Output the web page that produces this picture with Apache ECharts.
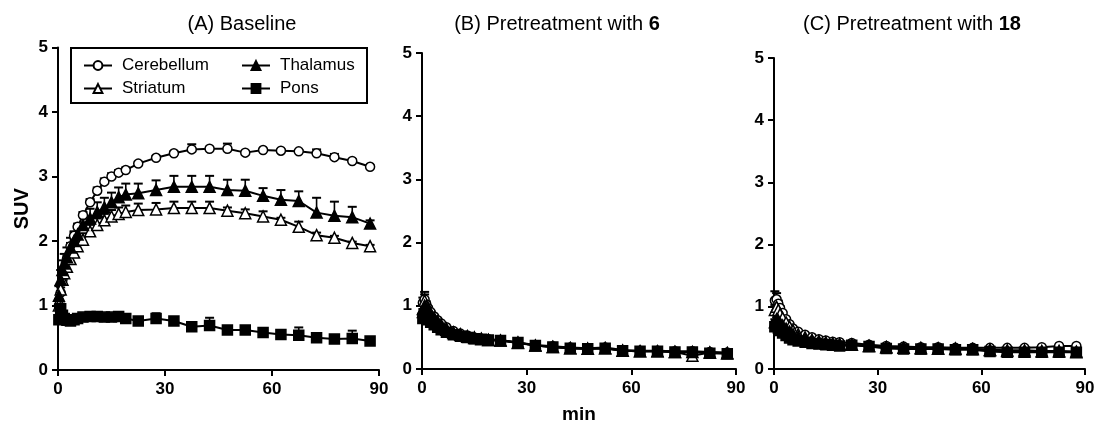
<!DOCTYPE html>
<html><head><meta charset="utf-8">
<script src="https://cdn.jsdelivr.net/npm/echarts@6/dist/echarts.min.js"></script>
<style>html,body{margin:0;padding:0;background:#fff}#c{width:1095px;height:423px}</style>
</head><body><div id="c"></div>
<script>
// frame mid-times (min)
const times = [0.25,0.75,1.25,1.75,2.5,3.5,4.5,5.5,7,9,11,13,15,17,19,22.5,27.5,32.5,37.5,42.5,47.5,52.5,57.5,62.5,67.5,72.5,77.5,82.5,87.5];
const regions = ['Cerebellum','Striatum','Thalamus','Pons'];
const panelTitles = ['(A) Baseline','(B) Pretreatment with {b|6}','(C) Pretreatment with {b|18}'];
const xTickValues = [0,30,60,90];
const yTickValues = [0,1,2,3,4,5];

// Panel A: baseline
const aCerebellum    = [1.0,1.2,1.4,1.55,1.72,1.92,2.08,2.22,2.4,2.6,2.78,2.92,3.0,3.06,3.1, 3.2,3.29,3.36,3.42,3.43,3.43,3.37,3.41,3.40,3.39,3.36,3.30,3.24,3.15];
const aCerebellumErr = [0.1,0.08,0.06,0.05,0.05,0.05,0.05,0.05,0.05,0.05,0.05,0.05,0.05,0.04,0.04, 0.03,0.03,0.03,0.08,0.03,0.08,0.02,0.02,0.02,0.02,0.06,0.05,0.03,0.02];
const aStriatum      = [1.0,1.25,1.4,1.5,1.6,1.72,1.82,1.92,2.02,2.15,2.25,2.32,2.38,2.42,2.45, 2.48,2.49,2.51,2.51,2.51,2.47,2.43,2.38,2.33,2.22,2.09,2.05,1.97,1.92];
const aStriatumErr   = [0.08,0.1,0.1,0.1,0.1,0.1,0.1,0.1,0.1,0.1,0.1,0.1,0.1,0.1,0.1, 0.1,0.1,0.1,0.1,0.1,0.05,0.06,0.08,0.03,0.08,0.04,0.03,0.02,0.02];
const aThalamus      = [1.15,1.4,1.55,1.65,1.75,1.9,2.0,2.1,2.25,2.35,2.45,2.52,2.6,2.68,2.72, 2.74,2.79,2.84,2.84,2.84,2.79,2.78,2.70,2.64,2.62,2.44,2.39,2.37,2.27];
const aThalamusErr   = [0.15,0.15,0.15,0.15,0.15,0.15,0.15,0.15,0.15,0.15,0.15,0.15,0.15,0.15,0.17, 0.15,0.15,0.17,0.17,0.17,0.16,0.17,0.12,0.15,0.15,0.23,0.22,0.16,0.05];
const aPons          = [0.78,0.95,0.85,0.8,0.77,0.76,0.78,0.8,0.82,0.83,0.83,0.82,0.82,0.83,0.8, 0.76,0.80,0.76,0.67,0.69,0.62,0.62,0.58,0.55,0.54,0.50,0.48,0.49,0.45];
const aPonsErr       = [0.05,0.08,0.05,0.03,0.03,0.03,0.03,0.03,0.03,0.03,0.03,0.03,0.03,0.03,0.03, 0.02,0.08,0.02,0.02,0.12,0.02,0.05,0.02,0.02,0.12,0.02,0.02,0.12,0.02];

// Panel B: pretreatment with 6
const bCerebellum    = [1.05,1.1,1.02,0.96,0.9,0.83,0.77,0.72,0.66,0.6,0.56,0.53,0.5,0.48,0.47, 0.46,0.42,0.38,0.36,0.34,0.33,0.34,0.3,0.29,0.29,0.28,0.28,0.27,0.26];
const bCerebellumErr = [0.08,0.12,0.05,0.03,0.02,0,0,0,0,0,0,0,0,0,0, 0,0,0,0,0,0,0,0,0,0,0,0,0,0];
const bStriatum      = [0.95,1.08,1.0,0.94,0.88,0.81,0.75,0.7,0.64,0.58,0.55,0.52,0.5,0.48,0.46, 0.45,0.42,0.37,0.35,0.33,0.32,0.33,0.29,0.28,0.28,0.27,0.21,0.26,0.25];
const bStriatumErr   = [0.1,0.1,0.05,0.03,0,0,0,0,0,0,0,0,0,0,0, 0,0,0,0,0,0,0,0,0,0,0,0.05,0,0];
const bThalamus      = [0.9,1.0,0.95,0.9,0.85,0.79,0.73,0.68,0.62,0.57,0.54,0.51,0.49,0.47,0.46, 0.45,0.41,0.37,0.35,0.33,0.32,0.33,0.29,0.28,0.28,0.27,0.27,0.26,0.25];
const bThalamusErr   = [0.05,0.05,0.03,0,0,0,0,0,0,0,0,0,0,0,0, 0,0,0,0,0,0,0,0,0,0,0,0,0,0];
const bPons          = [0.8,0.85,0.82,0.78,0.74,0.7,0.66,0.62,0.58,0.54,0.52,0.5,0.48,0.47,0.46, 0.45,0.42,0.37,0.35,0.33,0.32,0.33,0.29,0.28,0.28,0.27,0.27,0.25,0.24];
const bPonsErr       = [0,0,0,0,0,0,0,0,0,0,0,0,0,0,0, 0,0,0,0,0,0,0,0,0,0,0,0,0,0];

// Panel C: pretreatment with 18
const cCerebellum    = [1.1,1.12,1.05,0.98,0.9,0.8,0.72,0.65,0.6,0.55,0.51,0.48,0.46,0.44,0.43, 0.42,0.39,0.37,0.36,0.35,0.35,0.34,0.34,0.34,0.34,0.34,0.35,0.37,0.37];
const cCerebellumErr = [0.15,0.1,0.05,0.03,0.02,0,0,0,0,0,0,0,0,0,0, 0,0,0,0,0,0,0,0,0,0,0,0,0,0];
const cStriatum      = [0.95,1.0,0.95,0.88,0.82,0.75,0.68,0.62,0.56,0.51,0.47,0.45,0.43,0.41,0.4, 0.39,0.37,0.35,0.34,0.33,0.33,0.32,0.32,0.31,0.3,0.3,0.29,0.29,0.28];
const cStriatumErr   = [0.08,0.05,0.03,0,0,0,0,0,0,0,0,0,0,0,0, 0,0,0,0,0,0,0,0,0,0,0,0,0,0];
const cThalamus      = [0.75,0.8,0.78,0.74,0.7,0.65,0.6,0.56,0.52,0.48,0.45,0.43,0.41,0.4,0.39, 0.39,0.37,0.35,0.34,0.34,0.33,0.33,0.32,0.3,0.29,0.28,0.28,0.28,0.27];
const cThalamusErr   = [0.05,0.03,0,0,0,0,0,0,0,0,0,0,0,0,0, 0,0,0,0,0,0,0,0,0,0,0,0,0,0];
const cPons          = [0.68,0.7,0.66,0.62,0.58,0.54,0.5,0.47,0.45,0.43,0.41,0.4,0.39,0.38,0.37, 0.38,0.36,0.33,0.32,0.32,0.32,0.31,0.31,0.28,0.27,0.27,0.27,0.27,0.27];
const cPonsErr       = [0,0,0,0,0,0,0,0,0,0,0,0,0,0,0, 0,0,0,0,0,0,0,0,0,0,0,0,0,0];

const panelData = [
  {Cerebellum:[aCerebellum,aCerebellumErr], Striatum:[aStriatum,aStriatumErr], Thalamus:[aThalamus,aThalamusErr], Pons:[aPons,aPonsErr]},
  {Cerebellum:[bCerebellum,bCerebellumErr], Striatum:[bStriatum,bStriatumErr], Thalamus:[bThalamus,bThalamusErr], Pons:[bPons,bPonsErr]},
  {Cerebellum:[cCerebellum,cCerebellumErr], Striatum:[cStriatum,cStriatumErr], Thalamus:[cThalamus,cThalamusErr], Pons:[cPons,cPonsErr]}
];

const FONT = '"Liberation Sans", Arial, Helvetica, sans-serif';
const markerStyle = {
  Cerebellum: {symbol:'circle',   fill:'#fff', size:9},
  Striatum:   {symbol:'triangle', fill:'#fff', size:11},
  Thalamus:   {symbol:'triangle', fill:'#000', size:11},
  Pons:       {symbol:'rect',     fill:'#000', size:10}
};
const grids = [
  {left:58,  top:47.5, width:321, height:322.5, outerBoundsMode:'none', containLabel:false},
  {left:422, top:53,   width:314, height:316,   outerBoundsMode:'none', containLabel:false},
  {left:774, top:58,   width:311, height:311,   outerBoundsMode:'none', containLabel:false}
];
const titleCenters = [242, 557, 912];

function errRender(params, api){
  const x = api.value(0), y = api.value(1), e = api.value(2);
  if (!(e > 0)) return null;
  const p0 = api.coord([x, y]), p1 = api.coord([x, y + e]);
  const w = 4.5;
  return {type:'group', children:[
    {type:'line', shape:{x1:p0[0], y1:p0[1], x2:p1[0], y2:p1[1]}, style:{stroke:'#000', lineWidth:1.6}},
    {type:'line', shape:{x1:p1[0]-w, y1:p1[1], x2:p1[0]+w, y2:p1[1]}, style:{stroke:'#000', lineWidth:2}}
  ]};
}

const xAxes = [], yAxes = [], series = [], titles = [];
grids.forEach((g, i) => {
  titles.push({
    text: panelTitles[i], left: titleCenters[i], top: 14, textAlign:'center', padding:0,
    textStyle:{fontFamily:FONT, fontSize:20, fontWeight:'normal', color:'#000',
      rich:{b:{fontFamily:FONT, fontSize:20, fontWeight:'bold', color:'#000'}}}
  });
  xAxes.push({
    type:'value', gridIndex:i, min:xTickValues[0], max:xTickValues[xTickValues.length-1], interval:30,
    name: i === 1 ? 'min' : '', nameLocation:'middle', nameGap:36,
    nameTextStyle:{fontFamily:FONT, fontSize:19, fontWeight:'bold', color:'#000'},
    axisLine:{lineStyle:{color:'#000', width:2}},
    axisTick:{inside:false, length:6, lineStyle:{color:'#000', width:2}},
    axisLabel:{fontFamily:FONT, fontSize:17, fontWeight:'bold', color:'#000', margin:11},
    splitLine:{show:false}
  });
  yAxes.push({
    type:'value', gridIndex:i, min:yTickValues[0], max:yTickValues[yTickValues.length-1], interval:1,
    name: i === 0 ? 'SUV' : '', nameLocation:'middle', nameGap:26, nameRotate:90,
    nameTextStyle:{fontFamily:FONT, fontSize:20, fontWeight:'bold', color:'#000'},
    axisLine:{show:true, lineStyle:{color:'#000', width:2}},
    axisTick:{show:true, inside:false, length:6, lineStyle:{color:'#000', width:2}},
    axisLabel:{fontFamily:FONT, fontSize:17, fontWeight:'bold', color:'#000', margin:10},
    splitLine:{show:false}
  });
  regions.forEach(r => {
    const [vals, errs] = panelData[i][r];
    const ms = markerStyle[r];
    series.push({
      type:'custom', name: r + ' error', xAxisIndex:i, yAxisIndex:i, z:2, clip:false, silent:true,
      renderItem: errRender,
      data: times.map((t, k) => [t, vals[k], errs[k]])
    });
    series.push({
      type:'line', name:r, xAxisIndex:i, yAxisIndex:i, z:3,
      symbol: ms.symbol, symbolSize: ms.size, showAllSymbol:true,
      lineStyle:{color:'#000', width:2},
      itemStyle:{color: ms.fill, borderColor:'#000', borderWidth:1.5},
      emphasis:{disabled:true},
      animation:false,
      data: times.map((t, k) => [t, vals[k]])
    });
  });
});

const legendCommon = {
  orient:'vertical', top:52, itemWidth:28, itemHeight:11, itemGap:6, selectedMode:false,
  textStyle:{fontFamily:FONT, fontSize:17, color:'#000', padding:[0,0,0,5]}
};

const option = {
  animation:false,
  backgroundColor:'#fff',
  title: titles,
  grid: grids,
  xAxis: xAxes,
  yAxis: yAxes,
  legend: [
    Object.assign({data:['Cerebellum','Striatum'], left:78}, legendCommon),
    Object.assign({data:['Thalamus','Pons'], left:236}, legendCommon)
  ],
  graphic: [{
    type:'rect', left:70, top:47, z:0,
    shape:{width:296, height:55},
    style:{fill:'#fff', stroke:'#000', lineWidth:2}
  }],
  series: series
};

const chart = echarts.init(document.getElementById('c'));
chart.setOption(option);
</script>
</body></html>
